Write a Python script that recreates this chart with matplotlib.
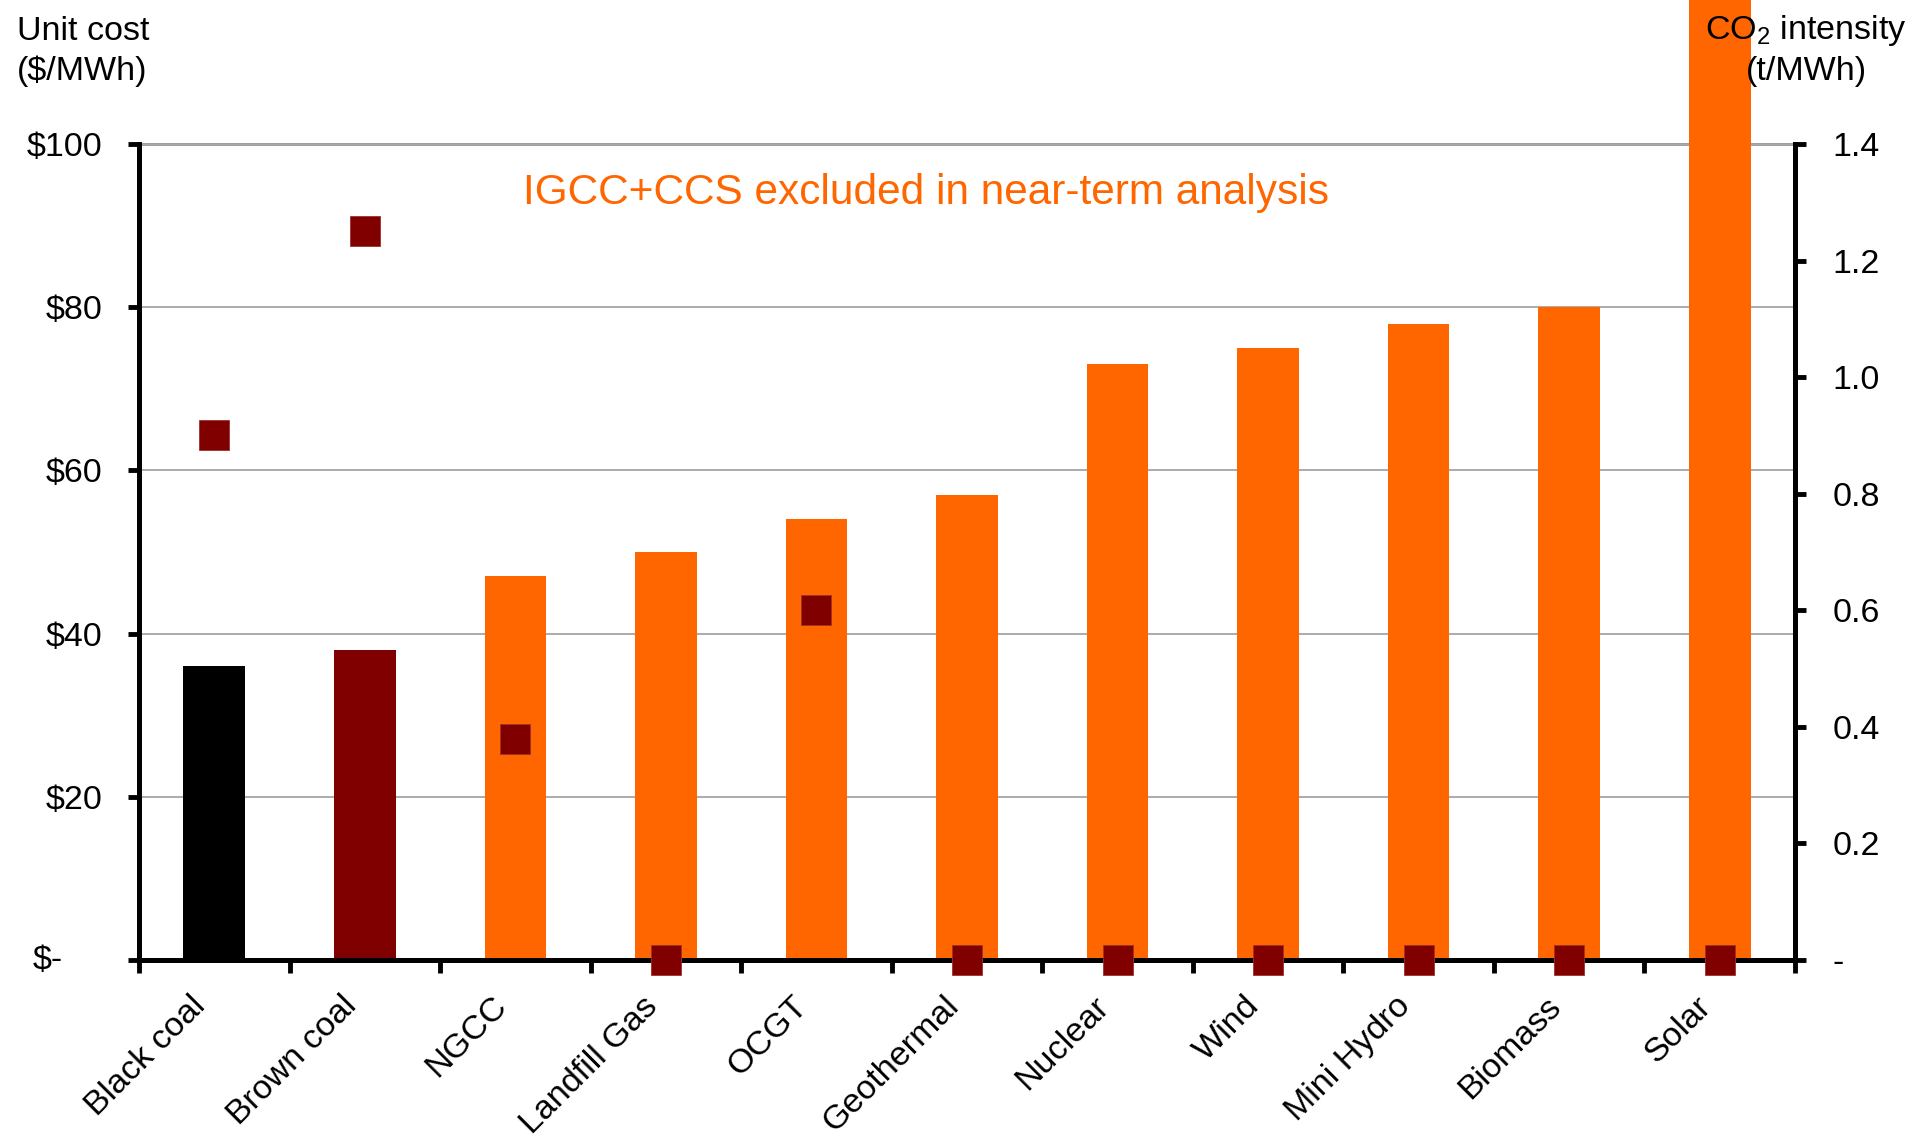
import matplotlib
matplotlib.use("Agg")
import matplotlib.pyplot as plt
import numpy as np

plt.rcParams['font.family'] = ['Liberation Sans', 'DejaVu Sans']
plt.rcParams['mathtext.fontset'] = 'custom'
plt.rcParams['mathtext.rm'] = 'Liberation Sans'

# data
techs = ["Black coal", "Brown coal", "NGCC", "Landfill Gas", "OCGT", "Geothermal",
         "Nuclear", "Wind", "Mini Hydro", "Biomass", "Solar"]
unit_cost = [36, 38, 47, 50, 54, 57, 73, 75, 78, 80, 125]
co2 = [0.9, 1.25, 0.38, 0, 0.6, 0, 0, 0, 0, 0, 0]
bar_colors = ["#000000", "#800000"] + ["#FF6600"] * 9
cost_ticks = [0, 20, 40, 60, 80, 100]
cost_labels = ["", "$20", "$40", "$60", "$80", "$100"]
co2_ticks = [0, 0.2, 0.4, 0.6, 0.8, 1.0, 1.2, 1.4]
co2_labels = ["-", "0.2", "0.4", "0.6", "0.8", "1.0", "1.2", "1.4"]

fig = plt.figure(figsize=(19.16, 11.39), dpi=100)
ax = fig.add_axes([139/1916, 1-960/1139, (1795-139)/1916, (960-144)/1139])

x = np.arange(len(techs))
bars = ax.bar(x, unit_cost, width=0.41, color=bar_colors, zorder=1)
for b in bars:
    b.set_clip_on(False)

ax.set_xlim(-0.5, len(techs) - 0.5)
ax.set_ylim(0, 100)
ax.set_yticks(cost_ticks)
ax.set_yticklabels(cost_labels)
ax.yaxis.grid(True, color="#ababab", lw=1.4)
ax.set_axisbelow(True)

# category boundaries get the tick marks, labels sit a bit left of bar centres
ax.set_xticks(np.arange(-0.5, len(techs), 1.0))
ax.set_xticklabels([])
ax.set_xticks(x - 0.16, minor=True)
ax.set_xticklabels(techs, minor=True, rotation=45, ha='right', va='top',
                   rotation_mode='anchor', fontsize=24.5)
ax.tick_params(axis='x', which='minor', length=0, pad=22)
ax.tick_params(axis='x', which='major', length=9, width=3.5, direction='out')
ax.tick_params(axis='y', length=8, width=3.5, labelsize=24.5, pad=18)

for s in ['left', 'bottom']:
    ax.spines[s].set_linewidth(3.6)
ax.spines['right'].set_visible(False)
ax.spines['top'].set_color('#808080')
ax.spines['top'].set_linewidth(1.8)
ax.spines['top'].set_zorder(0.5)

# accounting-style zero label
ax.text(-76/1656, 0, "$-", transform=ax.get_yaxis_transform(), ha='right',
        va='center', fontsize=24.5)
ax.text(0.475, 0.94, "IGCC+CCS excluded in near-term analysis", transform=ax.transAxes,
        ha='center', va='center', fontsize=30.5, color="#FF6600")

ax2 = ax.twinx()
ax2.set_ylim(0, 1.4)
ax2.plot(x, co2, ls='none', marker='s', markersize=21, color="#800000",
         markeredgecolor="#a03030", markeredgewidth=0.6, clip_on=False, zorder=5)
ax2.set_yticks(co2_ticks)
ax2.set_yticklabels(co2_labels)
ax2.tick_params(axis='y', length=8, width=3.5, labelsize=24.5, pad=19)
for s in ['left', 'bottom', 'top']:
    ax2.spines[s].set_visible(False)
ax2.spines['right'].set_linewidth(3.6)

fig.text(17/1916, 1-40/1139, "Unit cost", fontsize=24.5, ha='left', va='baseline')
fig.text(17/1916, 1-80/1139, "($/MWh)", fontsize=24.5, ha='left', va='baseline')
fig.text(1806/1916, 1-39/1139, r"CO$_\mathregular{2}$ intensity", fontsize=24.5,
         ha='center', va='baseline', zorder=10)
fig.text(1806/1916, 1-80/1139, "(t/MWh)", fontsize=24.5, ha='center', va='baseline',
         zorder=10)

fig.savefig("out.png", dpi=100)
